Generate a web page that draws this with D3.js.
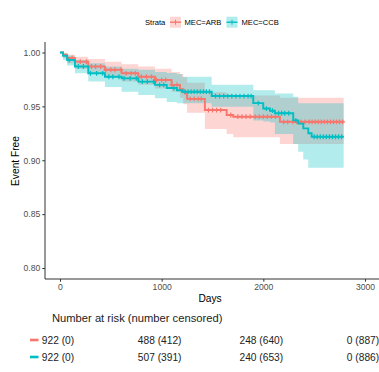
<!DOCTYPE html>
<html>
<head>
  <meta charset="utf-8">
  <script src="https://d3js.org/d3.v7.min.js"></script>
  <style>
    body { margin: 0; background: #fff; }
    text { font-family: "Liberation Sans", Arial, sans-serif; }
  </style>
</head>
<body>
<div id="chart"></div>
<script>
// ---- data ----
const strata = ["MEC=ARB", "MEC=CCB"];
const colors = ["#F8766D", "#00BFC4"];

// MEC=ARB step curve with 95% band
const arbTime  = [0, 30, 70, 147, 278, 442, 606, 770, 934, 1098, 1180, 1213, 1250, 1425, 1639, 1704, 2163, 2790];
const arbSurv  = [1, .998, .995, .9915, .987, .984, .9807, .9775, .9745, .970, .966, .963, .957, .9466, .942, .9404, .9357, .9357];
const arbUpper = [1, .9995, .998, .996, .994, .9915, .989, .987, .985, .982, .980, .977, .972, .963, .961, .960, .958, .958];
const arbLower = [1, .995, .990, .985, .982, .9775, .973, .970, .9667, .9636, .958, .952, .944, .929, .9243, .9213, .915, .915];
const arbCensor = [120, 200, 260, 310, 350, 400, 450, 500, 540, 600, 650, 700, 740, 800, 850, 900, 950, 1000, 1040, 1100,
  1150, 1230, 1280, 1320, 1360, 1390, 1460, 1500, 1540, 1580, 1680, 1750, 1790, 1830, 1870, 1920, 1960, 2000, 2040, 2080,
  2120, 2200, 2240, 2290, 2330, 2370, 2410, 2450, 2480, 2510, 2540, 2570, 2600, 2630, 2660, 2690, 2720, 2750, 2780];

// MEC=CCB step curve with 95% band
const ccbTime  = [0, 30, 70, 147, 278, 442, 606, 770, 934, 1050, 1150, 1200, 1492, 1901, 1999, 2065, 2114, 2294, 2343, 2393, 2442, 2475, 2790];
const ccbSurv  = [1, .997, .993, .987, .9807, .9775, .976, .973, .970, .967, .965, .9636, .9596, .953, .948, .946, .9436, .937, .934, .9296, .925, .9218, .9218];
const ccbUpper = [1, .999, .997, .993, .990, .987, .985, .984, .982, .981, .980, .9775, .970, .965, .965, .965, .962, .959, .953, .953, .953, .953, .953];
const ccbLower = [1, .993, .988, .9807, .973, .968, .9636, .9605, .9575, .954, .953, .953, .9497, .937, .936, .935, .9243, .915, .908, .9008, .893, .893, .893];
const ccbCensor = [90, 180, 230, 300, 360, 420, 480, 520, 580, 630, 690, 750, 810, 860, 920, 980, 1020, 1120, 1230, 1260,
  1290, 1320, 1350, 1380, 1410, 1440, 1470, 1530, 1570, 1610, 1650, 1690, 1730, 1770, 1810, 1850, 1880, 1950, 2030, 2090,
  2150, 2180, 2210, 2250, 2320, 2500, 2530, 2560, 2590, 2620, 2650, 2680, 2710, 2740, 2770];

// x and y tick labels
const xTicks = [0, 1000, 2000, 3000];
const yTicks = [0.80, 0.85, 0.90, 0.95, 1.00];

// risk table
const riskTimes = [0, 1000, 2000, 3000];
const arbRisk = [922, 488, 248, 0];
const arbCens = [0, 412, 640, 887];
const ccbRisk = [922, 507, 240, 0];
const ccbCens = [0, 391, 653, 886];

// ---- layout ----
const W = 379, H = 372;
const svg = d3.select("#chart").append("svg")
  .attr("width", W).attr("height", H);

const x = d3.scaleLinear().domain([0, 3000]).range([60, 365]);
const y = d3.scaleLinear().domain([0.80, 1.00]).range([268, 52.5]);
const axisX0 = 45, axisY0 = 279;

const series = [
  {name: strata[0], color: colors[0], t: arbTime, s: arbSurv, up: arbUpper, lo: arbLower, cens: arbCensor},
  {name: strata[1], color: colors[1], t: ccbTime, s: ccbSurv, up: ccbUpper, lo: ccbLower, cens: ccbCensor}
];

// bands
const area = d3.area()
  .curve(d3.curveStepAfter)
  .x(d => x(d.t)).y0(d => y(d.lo)).y1(d => y(d.up));
const line = d3.line()
  .curve(d3.curveStepAfter)
  .x(d => x(d.t)).y(d => y(d.s));

series.forEach(sr => {
  const pts = sr.t.map((t, i) => ({t, s: sr.s[i], up: sr.up[i], lo: sr.lo[i]}));
  svg.append("path").datum(pts)
    .attr("d", area)
    .attr("fill", sr.color).attr("fill-opacity", 0.3);
  sr.pts = pts;
});

series.forEach(sr => {
  svg.append("path").datum(sr.pts)
    .attr("d", line)
    .attr("fill", "none").attr("stroke", sr.color).attr("stroke-width", 1.9);
  // censor marks
  const bis = d3.bisector(d => d).right;
  svg.append("g").selectAll("path").data(sr.cens).join("path")
    .attr("d", c => {
      const i = Math.max(0, bis(sr.t, c) - 1);
      const cx = x(c), cy = y(sr.s[i]);
      return `M${cx - 2.4},${cy}H${cx + 2.4}M${cx},${cy - 2.4}V${cy + 2.4}`;
    })
    .attr("stroke", sr.color).attr("stroke-width", 1.2);
});

// axes
const axisColor = "#333";
const tickColor = "#4d4d4d";
svg.append("line").attr("x1", axisX0).attr("x2", axisX0).attr("y1", 42).attr("y2", axisY0)
  .attr("stroke", axisColor).attr("stroke-width", 1);
svg.append("line").attr("x1", axisX0).attr("x2", W).attr("y1", axisY0).attr("y2", axisY0)
  .attr("stroke", axisColor).attr("stroke-width", 1);

const gy = svg.append("g").attr("transform", `translate(${axisX0},0)`)
  .call(d3.axisLeft(y).tickValues(yTicks).tickFormat(d3.format(".2f")).tickSize(2.7).tickPadding(2));
const gx = svg.append("g").attr("transform", `translate(0,${axisY0})`)
  .call(d3.axisBottom(x).tickValues(xTicks).tickFormat(d3.format("d")).tickSize(2.7).tickPadding(2.5));
[gx, gy].forEach(g => {
  g.select(".domain").remove();
  g.selectAll(".tick line").attr("stroke", axisColor);
  g.selectAll(".tick text").attr("fill", tickColor)
    .style("font-family", "Liberation Sans, Arial, sans-serif").style("font-size", "8.6px");
});

svg.append("text").attr("x", 210).attr("y", 302)
  .attr("text-anchor", "middle").style("font-size", "10.2px").attr("fill", "#000").text("Days");
svg.append("text").attr("transform", "rotate(-90)")
  .attr("x", -161).attr("y", 18.5)
  .attr("text-anchor", "middle").style("font-size", "10.2px").attr("fill", "#000").text("Event Free");

// legend
const lg = svg.append("g");
lg.append("text").attr("x", 145).attr("y", 25).style("font-size", "7.6px").text("Strata");
const keyX = [170, 226.5], labX = [184.5, 241.5];
series.forEach((sr, i) => {
  const k = lg.append("g").attr("transform", `translate(${keyX[i]},16.7)`);
  k.append("rect").attr("width", 11).attr("height", 11)
    .attr("fill", sr.color).attr("fill-opacity", 0.3);
  k.append("line").attr("x1", 0).attr("x2", 11).attr("y1", 5.5).attr("y2", 5.5)
    .attr("stroke", sr.color).attr("stroke-width", 1.4);
  k.append("line").attr("x1", 5.5).attr("x2", 5.5).attr("y1", 3).attr("y2", 8)
    .attr("stroke", sr.color).attr("stroke-width", 1);
  lg.append("text").attr("x", labX[i]).attr("y", 25).style("font-size", "7.6px").text(sr.name);
});

// risk table
svg.append("text").attr("x", 52).attr("y", 321.5).style("font-size", "11.2px").attr("fill", "#222")
  .text("Number at risk (number censored)");
const rows = [
  {color: colors[0], risk: arbRisk, cens: arbCens, cy: 340},
  {color: colors[1], risk: ccbRisk, cens: ccbCens, cy: 357}
];
rows.forEach(r => {
  svg.append("line").attr("x1", 30).attr("x2", 38.5).attr("y1", r.cy).attr("y2", r.cy)
    .attr("stroke", r.color).attr("stroke-width", 2.6);
  svg.append("g").selectAll("text").data(riskTimes).join("text")
    .attr("x", (t, i) => x(t) - 2)
    .attr("y", r.cy + 3.6)
    .attr("text-anchor", "middle")
    .style("font-size", "10.2px").attr("fill", "#222")
    .text((t, i) => `${r.risk[i]} (${r.cens[i]})`);
});
</script>
</body>
</html>
